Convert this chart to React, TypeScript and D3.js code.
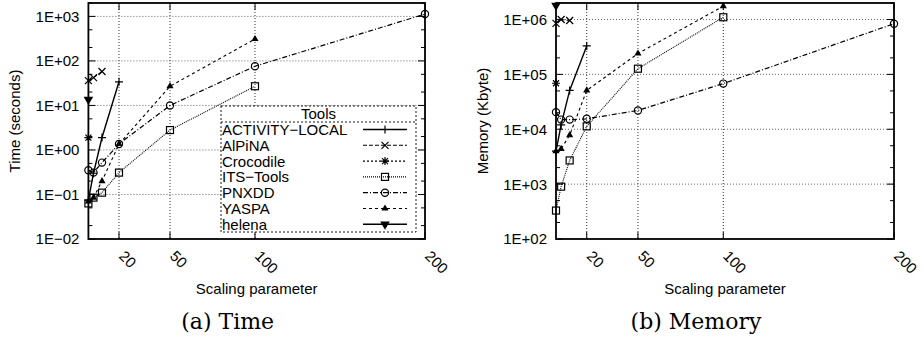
import * as d3 from "d3";

// scaling parameter values shared by both plots
const params = [2, 5, 10, 20, 50, 100, 200];
const xTicks = [20, 50, 100, 200];
const tools = ["ACTIVITY−LOCAL", "AlPiNA", "Crocodile", "ITS−Tools", "PNXDD", "YASPA", "helena"];

// time (seconds), one list per tool, in params order
const timeActivityLocal = [0.075, 0.3, 1.9, 34];
const timeAlpina = [36, 42, 58];
const timeCrocodile = [1.9];
const timeItsTools = [0.063, 0.085, 0.11, 0.31, 2.8, 27];
const timePnxdd = [0.35, 0.31, 0.52, 1.36, 10, 76, 1130];
const timeYaspa = [0.07, 0.085, 0.2, 1.36, 27, 310];
const timeHelena = [13.6];

// memory (Kbyte)
const memActivityLocal = [4000, 12000, 51000, 330000];
const memAlpina = [850000, 1000000, 960000];
const memCrocodile = [69000];
const memItsTools = [330, 900, 2700, 11300, 127000, 1100000];
const memPnxdd = [20500, 15000, 15000, 15500, 22000, 68000, 840000];
const memYaspa = [4000, 4400, 7800, 51000, 240000, 1750000];
const memHelena = [1800000];

const timeSeries = [timeActivityLocal, timeAlpina, timeCrocodile, timeItsTools, timePnxdd, timeYaspa, timeHelena];
const memSeries = [memActivityLocal, memAlpina, memCrocodile, memItsTools, memPnxdd, memYaspa, memHelena];

// line style per tool
const dashes = [null, "4,2", "2,2", "1,1", "5,2,1,2", "3,3", null];
const widths = [1.4, 1.1, 1.1, 1.1, 1.2, 1.1, 1.4];
const markers = ["plus", "cross", "star", "square", "circle", "triangle", "down"];

const font = "'Liberation Sans', Arial, Helvetica, sans-serif";
const TOP = 3;
const BOTTOM = 239;

function Marker({ kind, cx, cy }: { kind: string; cx: number; cy: number }) {
  const t = `translate(${cx},${cy})`;
  const s = { fill: "none", stroke: "#000", strokeWidth: 1.2 };
  if (kind === "plus") return <path transform={t} d="M-4,0H4M0,-4V4" {...s} />;
  if (kind === "cross") return <path transform={t} d="M-3.5,-3.5L3.5,3.5M-3.5,3.5L3.5,-3.5" {...s} />;
  if (kind === "star")
    return <path transform={t} d="M-4,0H4M0,-4V4M-3,-3L3,3M-3,3L3,-3" {...s} />;
  if (kind === "square") return <rect x={cx - 3.5} y={cy - 3.5} width={7} height={7} {...s} />;
  if (kind === "circle") return <circle cx={cx} cy={cy} r={3.6} {...s} />;
  if (kind === "triangle")
    return <path transform={t} d={d3.symbol(d3.symbolTriangle, 22)() || ""} fill="#000" />;
  return (
    <path transform={t + " rotate(180)"} d={d3.symbol(d3.symbolTriangle, 40)() || ""} fill="#000" />
  );
}

function fmt(v: number) {
  const e = Math.round(Math.log10(v));
  const sign = e < 0 ? "−" : "+";
  return `1E${sign}${String(Math.abs(e)).padStart(2, "0")}`;
}

function Panel({
  left, right, yDomain, yLabel, labelX, series, caption, legend,
}: {
  left: number; right: number; yDomain: [number, number]; yLabel: string; labelX: number;
  series: number[][]; caption: string; legend: boolean;
}) {
  const x = d3.scaleLinear().domain([2, 200]).range([left, right]);
  const y = d3.scaleLog().domain(yDomain).range([BOTTOM, TOP]);

  const lo = Math.round(Math.log10(yDomain[0]));
  const hi = Math.floor(Math.log10(yDomain[1]));
  const major = d3.range(lo, hi + 1).map((e) => Math.pow(10, e));
  const minor: number[] = [];
  major.forEach((m) => [2, 5].forEach((k) => { if (m * k <= yDomain[1]) minor.push(m * k); }));

  const line = d3.line<number[]>().x((d) => x(d[0])).y((d) => y(d[1]));
  const midY = (TOP + BOTTOM) / 2;

  return (
    <g fontFamily={font}>
      {/* grid */}
      {major.slice(1).map((m) => (
        <line key={"gy" + m} x1={left} x2={right} y1={y(m)} y2={y(m)} stroke="#666" strokeWidth={1} strokeDasharray="1,2" />
      ))}
      {xTicks.slice(0, -1).map((v) => (
        <line key={"gx" + v} x1={x(v)} x2={x(v)} y1={TOP} y2={BOTTOM} stroke="#333" strokeWidth={1} strokeDasharray="1,2" />
      ))}

      {/* series */}
      {series.map((vals, i) => {
        const pts = vals.map((v, j) => [params[j], v]);
        return (
          <g key={"s" + i}>
            {pts.length > 1 && (
              <path d={line(pts) || ""} fill="none" stroke="#000" strokeWidth={widths[i]}
                strokeDasharray={dashes[i] || undefined} />
            )}
            {pts.map((p, j) => (
              <Marker key={j} kind={markers[i]} cx={x(p[0])} cy={y(p[1])} />
            ))}
          </g>
        );
      })}

      {/* ticks */}
      {major.map((m) => (
        <g key={"t" + m}>
          <line x1={left} x2={left + 7} y1={y(m)} y2={y(m)} stroke="#000" />
          <line x1={right} x2={right - 7} y1={y(m)} y2={y(m)} stroke="#000" />
          <text x={left - 9} y={y(m)} dy="0.36em" textAnchor="end" fontSize={15}>{fmt(m)}</text>
        </g>
      ))}
      {minor.map((m) => (
        <g key={"m" + m}>
          <line x1={left} x2={left + 4} y1={y(m)} y2={y(m)} stroke="#000" />
          <line x1={right} x2={right - 4} y1={y(m)} y2={y(m)} stroke="#000" />
        </g>
      ))}
      {xTicks.map((v) => (
        <g key={"xt" + v}>
          <line x1={x(v)} x2={x(v)} y1={BOTTOM} y2={BOTTOM - 7} stroke="#000" />
          <line x1={x(v)} x2={x(v)} y1={TOP} y2={TOP + 7} stroke="#000" />
          <text transform={`translate(${x(v) - 1},${BOTTOM + 18}) rotate(45)`} fontSize={15}>{v}</text>
        </g>
      ))}

      {/* frame */}
      <rect x={left} y={TOP} width={right - left} height={BOTTOM - TOP} fill="none" stroke="#000" strokeWidth={1.8} />

      {/* legend */}
      {legend && (
        <g>
          <rect x={221} y={106} width={195} height={126} fill="#fff" stroke="#000" strokeWidth={0.9} strokeDasharray="2,2" />
          <line x1={221} x2={416} y1={122} y2={122} stroke="#000" strokeWidth={0.9} strokeDasharray="2,2" />
          <text x={318.5} y={119} textAnchor="middle" fontSize={15}>Tools</text>
          {tools.map((name, i) => {
            const cy = 129.5 + i * 15.8;
            return (
              <g key={name}>
                <text x={222} y={cy} dy="0.36em" fontSize={15}>{name}</text>
                <line x1={363} x2={407} y1={cy} y2={cy} stroke="#000" strokeWidth={widths[i]}
                  strokeDasharray={dashes[i] || undefined} />
                <Marker kind={markers[i]} cx={385} cy={cy} />
              </g>
            );
          })}
        </g>
      )}

      {/* axis titles */}
      <text transform={`translate(${labelX},${midY}) rotate(-90)`} textAnchor="middle" fontSize={15}>{yLabel}</text>
      <text x={(left + right) / 2} y={294} textAnchor="middle" fontSize={15}>Scaling parameter</text>
      <text x={(left + right) / 2 - 29} y={329} textAnchor="middle" fontSize={22}
        fontFamily="'DejaVu Serif', serif">{caption}</text>
    </g>
  );
}

export default function App() {
  return (
    <svg width={924} height={341} style={{ position: "absolute", left: 0, top: 0, background: "#fff" }}>
      <rect width={924} height={341} fill="#fff" />
      <Panel left={88.4} right={425} yDomain={[0.01, 2000]} yLabel="Time (seconds)" labelX={20}
        series={timeSeries} caption="(a) Time" legend={true} />
      <Panel left={556} right={894} yDomain={[100, 2000000]} yLabel="Memory (Kbyte)" labelX={488}
        series={memSeries} caption="(b) Memory" legend={false} />
    </svg>
  );
}
